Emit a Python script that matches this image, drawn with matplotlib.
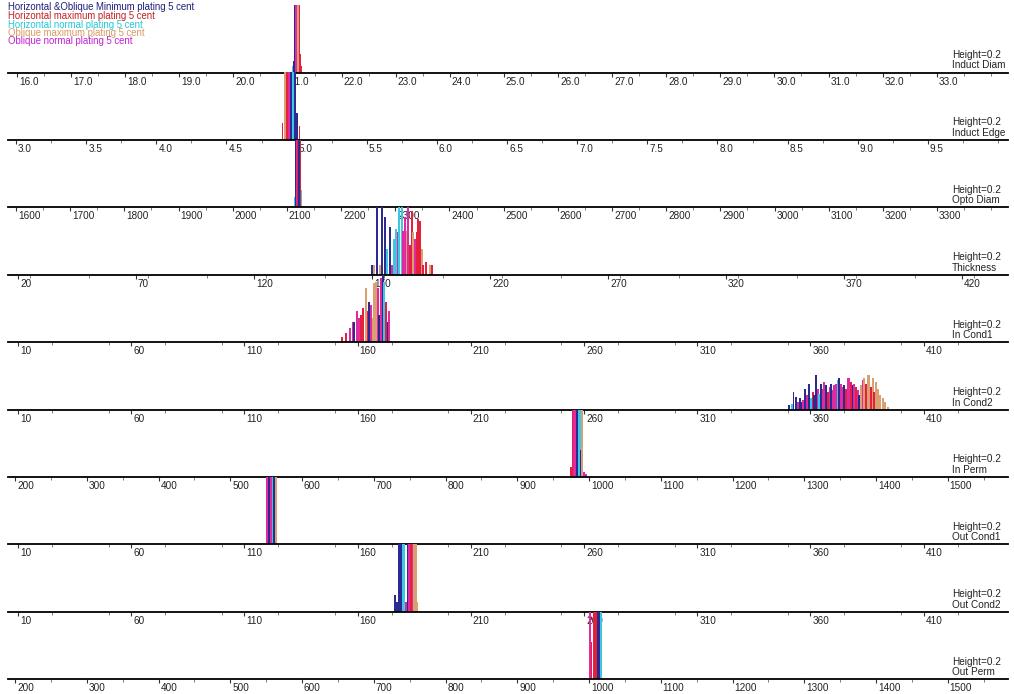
import numpy as np
import matplotlib
matplotlib.use('Agg')
import matplotlib.pyplot as plt
from matplotlib.ticker import MultipleLocator
from matplotlib.transforms import ScaledTranslation

plt.rcParams['font.family'] = ['Liberation Sans Narrow', 'Liberation Sans', 'DejaVu Sans']

# серии (легенда)
series_names = ['Horizontal &Oblique Minimum plating 5 cent',
                'Horizontal maximum plating 5 cent',
                'Horizontal normal plating 5 cent',
                'Oblique maximum plating 5 cent',
                'Oblique normal plating 5 cent']
legend_colors = ['#1e1e7a', '#c42020', '#22c8da', '#d89a62', '#c020d0']
bar_colors = ['#2a2a90', '#e4203c', '#3cc8e4', '#d9a072', '#e02aa0']

# 0 navy, 1 red, 2 cyan, 3 tan, 4 magenta
ind_diam_x = [21.10, 21.12, 21.14, 21.16, 21.18, 21.20, 21.22, 21.24, 21.26]
ind_diam_h = [0.02, 0.035, 0.3, 0.3, 0.3, 0.3, 0.3, 0.055, 0.02]
ind_diam_s = [2, 0, 0, 4, 4, 3, 1, 1, 1]

ind_edge_x = [4.90, 4.915, 4.93, 4.945, 4.96, 4.975, 4.99, 5.005, 5.02]
ind_edge_h = [0.05, 0.3, 0.3, 0.3, 0.3, 0.3, 0.3, 0.08, 0.04]
ind_edge_s = [1, 3, 1, 4, 0, 2, 0, 0, 1]

opto_x = [2115, 2117, 2119, 2121, 2123, 2125, 2127]
opto_h = [0.03, 0.3, 0.3, 0.3, 0.3, 0.3, 0.05]
opto_s = [2, 0, 4, 1, 0, 1, 2]

thick_x = [169.9, 170.8, 172.1, 173.4, 174.2, 175.5, 176.4, 177.6, 178.5, 179.3,
           180.2, 181.0, 181.4, 182.7, 183.1, 184.0, 184.8, 185.3, 186.1, 186.9,
           187.4, 188.2, 189.1, 189.5, 190.3, 191.2, 191.6, 192.9, 194.6, 195.4]
thick_h = [0.028, 0.03, 0.3, 0.03, 0.3, 0.17, 0.077, 0.141, 0.028, 0.106,
           0.136, 0.126, 0.3, 0.3, 0.131, 0.17, 0.131, 0.3, 0.087, 0.19,
           0.126, 0.106, 0.126, 0.165, 0.16, 0.077, 0.028, 0.037, 0.028, 0.028]
thick_s = [0, 3, 0, 3, 0, 0, 2, 0, 4, 2,
           2, 4, 2, 2, 4, 4, 3, 4, 1, 1,
           3, 4, 1, 1, 1, 3, 1, 1, 3, 1]

in_c1_x = [153.0, 154.9, 156.6, 157.8, 158.4, 159.6, 160.6, 161.5, 162.4, 163.6, 164.5, 165.0,
           165.9, 166.7, 167.2, 168.1, 168.9, 169.5, 170.3, 171.1, 171.7, 172.5, 173.3, 173.9]
in_c1_h = [0.014, 0.027, 0.041, 0.061, 0.061, 0.091, 0.071, 0.081, 0.10, 0.16, 0.091, 0.12,
           0.11, 0.071, 0.174, 0.179, 0.16, 0.081, 0.189, 0.3, 0.179, 0.12, 0.061, 0.091]
in_c1_s = [1, 1, 4, 4, 0, 4, 4, 1, 1, 3, 1, 0,
           4, 3, 3, 3, 4, 0, 4, 0, 2, 1, 0, 4]

in_c2_x = [350.7, 351.7, 352.5, 353.6, 354.4, 355.4, 356.3, 356.9, 357.6, 358.6, 359.3, 360.3,
           361.0, 361.7, 362.5, 363.2, 363.9, 364.7, 365.4, 366.0, 366.9, 367.6, 368.4, 369.1,
           369.8, 370.6, 371.3, 372.1, 372.8, 373.5, 374.3, 375.0, 375.7, 376.5, 377.2, 377.9,
           378.7, 379.4, 380.1, 380.9, 381.6, 382.4, 383.1, 383.8, 384.6, 385.3, 386.0, 386.8,
           387.5, 388.2, 389.0, 389.7, 390.7, 391.9, 392.9, 394.4]
in_c2_h = [0.013, 0.015, 0.052, 0.037, 0.023, 0.033, 0.023, 0.028, 0.062, 0.042, 0.077, 0.033,
           0.052, 0.042, 0.103, 0.062, 0.047, 0.077, 0.062, 0.082, 0.072, 0.052, 0.067, 0.077,
           0.057, 0.072, 0.077, 0.087, 0.092, 0.077, 0.067, 0.072, 0.062, 0.092, 0.092, 0.082,
           0.072, 0.077, 0.067, 0.057, 0.042, 0.072, 0.087, 0.092, 0.077, 0.103, 0.101, 0.067,
           0.092, 0.052, 0.082, 0.062, 0.042, 0.033, 0.023, 0.008]
in_c2_s = [0, 2, 0, 0, 4, 0, 0, 4, 0, 4, 0, 2,
           1, 0, 0, 4, 2, 0, 4, 4, 0, 1, 4, 0,
           4, 4, 4, 2, 0, 4, 4, 0, 1, 4, 4, 1,
           0, 4, 1, 4, 0, 3, 4, 3, 1, 3, 3, 1,
           3, 1, 3, 3, 3, 3, 3, 3]

in_perm_x = [975, 977.5, 979.5, 981.5, 983.5, 985.5, 987.5, 988.5, 990, 993, 996]
in_perm_h = [0.03, 0.3, 0.3, 0.3, 0.3, 0.3, 0.3, 0.08, 0.3, 0.015, 0.01]
in_perm_s = [1, 1, 4, 4, 0, 2, 2, 0, 3, 4, 4]

out_c1_x = [120.0, 120.8, 121.6, 122.4, 123.1, 123.8]
out_c1_h = [0.3, 0.3, 0.3, 0.3, 0.3, 0.3]
out_c1_s = [4, 0, 4, 2, 0, 3]

out_c2_x = [176.5, 177.5, 178.4, 179.2, 179.9, 180.6, 181.4, 182.1, 182.8, 183.6, 184.3, 185.0, 185.8, 186.5]
out_c2_h = [0.05, 0.03, 0.3, 0.3, 0.3, 0.3, 0.03, 0.3, 0.3, 0.3, 0.3, 0.3, 0.3, 0.03]
out_c2_s = [0, 0, 0, 0, 2, 2, 4, 0, 4, 1, 4, 3, 3, 3]

out_perm_x = [1001.5, 1003.5, 1006.5, 1009.5, 1012, 1014, 1016.5]
out_perm_h = [0.3, 0.11, 0.3, 0.3, 0.3, 0.3, 0.3]
out_perm_s = [4, 1, 1, 1, 0, 0, 2]

# шкалы: (подпись, первый тик, последний, шаг, формат)
panels = [
    ('Induct Diam', 16.0, 33.0, 1.0, '%.1f', ind_diam_x, ind_diam_h, ind_diam_s),
    ('Induct Edge', 3.0, 9.5, 0.5, '%.1f', ind_edge_x, ind_edge_h, ind_edge_s),
    ('Opto Diam', 1600, 3300, 100, '%d', opto_x, opto_h, opto_s),
    ('Thickness', 20, 420, 50, '%d', thick_x, thick_h, thick_s),
    ('In Cond1', 10, 410, 50, '%d', in_c1_x, in_c1_h, in_c1_s),
    ('In Cond2', 10, 410, 50, '%d', in_c2_x, in_c2_h, in_c2_s),
    ('In Perm', 200, 1500, 100, '%d', in_perm_x, in_perm_h, in_perm_s),
    ('Out Cond1', 10, 410, 50, '%d', out_c1_x, out_c1_h, out_c1_s),
    ('Out Cond2', 10, 410, 50, '%d', out_c2_x, out_c2_h, out_c2_s),
    ('Out Perm', 200, 1500, 100, '%d', out_perm_x, out_perm_h, out_perm_s),
]
# пиксель первого тика и пикселей на единицу
px_first = [17, 16, 16, 18, 18, 18, 15, 18, 18, 15]
px_unit = [54.1, 140.3, 0.5418, 2.36, 2.264, 2.264, 0.7175, 2.264, 2.264, 0.7175]

W, H = 1014, 694
fig = plt.figure(figsize=(W / 100, H / 100), dpi=100)
fig.patch.set_facecolor('white')

left_px, right_px = 8, 1008
panel_h = 67.4
base0 = 72.5

for i, (name, t0, t1, step, fmt, xs, hs, ss) in enumerate(panels):
    base = base0 + panel_h * i
    ax = fig.add_axes([left_px / W, (H - base) / H, (right_px - left_px) / W, panel_h / H])
    ax.patch.set_visible(False)
    p0, ppu = px_first[i], px_unit[i]
    ax.set_xlim(t0 - (p0 - left_px) / ppu, t0 + (right_px - p0) / ppu)
    ax.set_ylim(0, 0.2)
    width = 1.8 / ppu
    ax.bar(xs, hs, width=width, color=[bar_colors[s] for s in ss], linewidth=0)

    ticks = np.arange(t0, t1 + step / 2, step)
    ax.set_xticks(ticks)
    ax.set_xticklabels([fmt % t for t in ticks], ha='left')
    ax.xaxis.set_minor_locator(MultipleLocator(step / 2))
    ax.tick_params(axis='x', which='major', direction='out', length=3, width=0.8,
                   pad=0, labelsize=7.2, colors='#333333', labelcolor='#222222')
    ax.tick_params(axis='x', which='minor', direction='out', length=2, width=0.6, colors='#666666')
    for lab in ax.get_xticklabels():
        lab.set_transform(lab.get_transform() + ScaledTranslation(2 / 100, 0, fig.dpi_scale_trans))
    ax.set_yticks([])
    for sp in ['top', 'left', 'right']:
        ax.spines[sp].set_visible(False)
    ax.spines['bottom'].set_linewidth(1.3)
    ax.spines['bottom'].set_color('black')

    fig.text(952 / W, (H - (base - 17.5)) / H, 'Height=0.2', fontsize=7.2, va='center', color='#222222')
    fig.text(952 / W, (H - (base - 7)) / H, name, fontsize=7.2, va='center', color='#222222')

# легенда
leg_y = [7.5, 16, 24.5, 33, 41.5]
for k in range(len(series_names)):
    fig.text(8 / W, (H - leg_y[k]) / H, series_names[k], fontsize=6.9, va='center',
             color=legend_colors[k])

plt.savefig('out.png', dpi=100)
